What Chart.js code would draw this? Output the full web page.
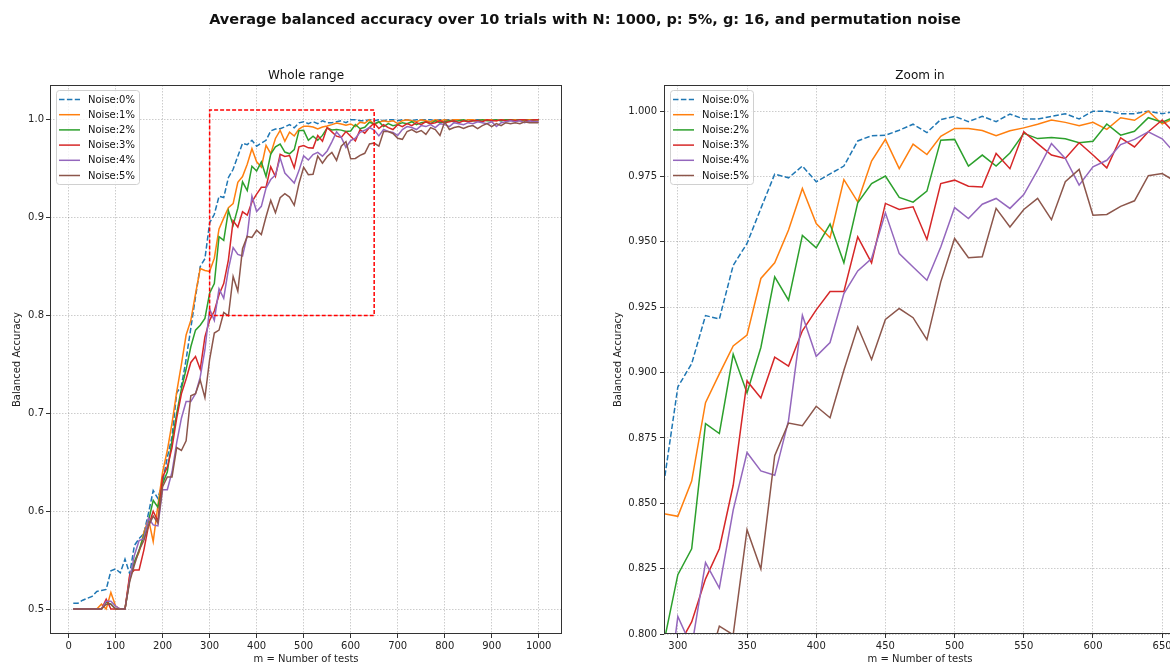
<!DOCTYPE html>
<html>
<head>
<meta charset="utf-8">
<script src="https://cdn.jsdelivr.net/npm/chart.js@4.4.1/dist/chart.umd.min.js"></script>
<style>
    body { margin: 0; background: #fff; }
    #fig { position: relative; width: 1170px; height: 666px; overflow: hidden; font-family: 'DejaVu Sans', sans-serif; color: #111; }
    #fig canvas { position: absolute; top: 0; }
    .suptitle { position: absolute; left: 0; top: 10px; width: 1170px; text-align: center; font-weight: bold; font-size: 14.5px; line-height: 18px; }
    .axtitle { position: absolute; top: 68px; width: 512px; text-align: center; font-size: 12px; line-height: 14px; }
</style>
</head>
<body>
<div id="fig">
    <canvas id="wholeChart" width="590" height="666" style="left:0"></canvas>
    <canvas id="zoomChart" width="600" height="666" style="left:590px"></canvas>
    <div class="suptitle">Average balanced accuracy over 10 trials with N: 1000, p: 5%, g: 16, and permutation noise</div>
    <div class="axtitle" style="left:50px">Whole range</div>
    <div class="axtitle" style="left:664px">Zoom in</div>
</div>
<script>
// m = number of tests
const numTests = [10, 20, 30, 40, 50, 60, 70, 80, 90, 100,
    110, 120, 130, 140, 150, 160, 170, 180, 190, 200,
    210, 220, 230, 240, 250, 260, 270, 280, 290, 300,
    310, 320, 330, 340, 350, 360, 370, 380, 390, 400,
    410, 420, 430, 440, 450, 460, 470, 480, 490, 500,
    510, 520, 530, 540, 550, 560, 570, 580, 590, 600,
    610, 620, 630, 640, 650, 660, 670, 680, 690, 700,
    710, 720, 730, 740, 750, 760, 770, 780, 790, 800,
    810, 820, 830, 840, 850, 860, 870, 880, 890, 900,
    910, 920, 930, 940, 950, 960, 970, 980, 990, 1000];

// balanced accuracy per noise level
const noise0 = [.506, .506, .509, .511, .513, .518, .519, .520, .539, .541,
    .537, .551, .536, .565, .572, .577, .598, .621, .613, .630,
    .655, .676, .721, .728, .755, .787, .819, .850, .858, .8945,
    .9034, .9218, .9205, .941, .9494, .9628, .9759, .9745, .979, .973,
    .976, .979, .9886, .9906, .9908, .9927, .995, .9918, .9968, .998,
    .996, .998, .996, .9989, .997, .997, .998, .999, .997, 1.0,
    1.0, .999, .999, 1.0, .999, 1.0, .999, 1.0, 1.0, .999,
    1.0, 1.0, .999, 1.0, 1.0, 1.0, 1.0, .999, 1.0, 1.0,
    1.0, 1.0, 1.0, .999, 1.0, 1.0, 1.0, 1.0, 1.0, 1.0,
    1.0, .999, 1.0, 1.0, 1.0, 1.0, 1.0, 1.0, 1.0, 1.0];
const noise1 = [.5, .5, .5, .5, .5, .5, .505, .5, .517, .503,
    .5, .5, .533, .548, .558, .578, .592, .569, .606, .640,
    .662, .690, .722, .750, .780, .795, .822, .848, .846, .845,
    .8585, .8885, .8995, .9102, .9143, .936, .942, .9545, .9704, .957,
    .9516, .9738, .9653, .9809, .9892, .978, .9874, .9834, .9904, .9934,
    .9934, .9926, .9906, .9925, .9936, .995, .9966, .9957, .9944, .9957,
    .993, .9975, .9965, 1.0, .9951, .9975, .999, .998, .999, .996,
    .999, 1.0, .999, .998, 1.0, .999, .998, 1.0, .999, 1.0,
    .999, 1.0, 1.0, .999, 1.0, 1.0, .999, 1.0, 1.0, 1.0,
    .999, 1.0, 1.0, 1.0, 1.0, .999, 1.0, 1.0, 1.0, 1.0];
const noise2 = [.5, .5, .5, .5, .5, .5, .5, .507, .505, .5,
    .5, .5, .53, .548, .56, .575, .59, .611, .604, .628,
    .640, .672, .70, .725, .745, .768, .785, .79, .797, .8227,
    .8326, .8805, .8767, .907, .8922, .9096, .9366, .9277, .9525, .9477,
    .9568, .942, .9649, .9723, .9752, .967, .9652, .9694, .9889, .9892,
    .979, .9832, .979, .984, .9915, .9895, .9899, .9894, .9879, .9885,
    .9951, .9908, .9923, .9975, .9958, .998, .993, .996, .994, .995,
    .997, .996, .998, .995, .997, .998, .996, .999, .997, .998,
    .999, .998, .999, 1.0, .998, .999, .999, 1.0, .999, .999,
    1.0, .999, 1.0, 1.0, .999, 1.0, 1.0, .999, 1.0, 1.0];
const noise3 = [.5, .5, .5, .5, .5, .5, .5, .51, .5, .5,
    .5, .5, .535, .54, .54, .56, .585, .60, .59, .635,
    .645, .665, .695, .72, .735, .752, .758, .745, .778, .795,
    .8046, .8211, .8326, .8569, .8968, .8903, .9059, .9025, .916, .924,
    .931, .931, .9519, .942, .9647, .9624, .9634, .9509, .9723, .9736,
    .9713, .971, .9838, .978, .9921, .9876, .9832, .9819, .9879, .9832,
    .9783, .9898, .9863, .9921, .9966, .991, .995, .992, .99, .995,
    .993, .996, .994, .997, .995, .998, .996, .997, .999, .997,
    .998, .999, .997, .999, .998, .999, .999, .998, 1.0, .999,
    .999, 1.0, .999, 1.0, .999, 1.0, 1.0, .999, 1.0, 1.0];
const noise4 = [.5, .5, .5, .5, .5, .5, .5, .508, .508, .503,
    .5, .5, .53, .555, .57, .572, .593, .586, .585, .622,
    .622, .64, .67, .695, .712, .712, .72, .737, .765, .8067,
    .795, .8273, .8176, .8474, .8694, .8624, .8607, .8817, .9219, .9062,
    .9115, .9302, .9389, .9436, .9611, .9455, .9404, .9353, .948, .9631,
    .9589, .9644, .9666, .9628, .9681, .9774, .9876, .9819, .9717, .9787,
    .9812, .9872, .9892, .9921, .9894, .9835, .99, .988, .987, .984,
    .99, .993, .992, .99, .994, .993, .995, .992, .996, .995,
    .993, .997, .996, .995, .997, .996, .998, .997, .996, .998,
    .993, .997, .998, .999, .998, .999, .997, .999, .998, .998];
const noise5 = [.5, .5, .5, .5, .5, .5, .5, .505, .505, .5,
    .5, .5, .528, .545, .56, .57, .585, .595, .588, .625,
    .635, .635, .665, .662, .672, .718, .72, .734, .716, .755,
    .782, .785, .803, .7997, .8399, .8249, .8682, .8807, .8797, .8871,
    .8827, .9009, .9175, .905, .9203, .9245, .921, .9126, .9347, .9513,
    .9439, .9443, .9628, .9557, .9624, .9666, .9585, .973, .9777, .9602,
    .9605, .9636, .9657, .9753, .9761, .973, .988, .988, .986, .981,
    .98, .988, .99, .987, .989, .985, .992, .99, .984, .998,
    .99, .992, .993, .991, .993, .994, .991, .994, .996, .993,
    .996, .994, .997, .996, .997, .996, .998, .997, .997, .997];

const noiseSeries = [noise0, noise1, noise2, noise3, noise4, noise5];
const noiseLabels = ['Noise:0%', 'Noise:1%', 'Noise:2%', 'Noise:3%', 'Noise:4%', 'Noise:5%'];
const noiseColors = ['#1f77b4', '#ff7f0e', '#2ca02c', '#d62728', '#9467bd', '#8c564b'];

// zoom window shown on the left plot
const zoomBoxX = [300, 300, 650, 650, 300];
const zoomBoxY = [0.8, 1.01, 1.01, 0.8, 0.8];

// tick labels
const wholeXTicks = [0, 100, 200, 300, 400, 500, 600, 700, 800, 900, 1000];
const wholeYTicks = [0.5, 0.6, 0.7, 0.8, 0.9, 1.0];
const zoomXTicks = [300, 350, 400, 450, 500, 550, 600, 650];
const zoomYTicks = [0.800, 0.825, 0.850, 0.875, 0.900, 0.925, 0.950, 0.975, 1.000];

const font = { family: 'DejaVu Sans', size: 10 };
const blueDash = [5.5, 2.4];

function buildDatasets(withZoomBox) {
    const sets = noiseSeries.map((vals, i) => ({
        label: noiseLabels[i],
        data: numTests.map((m, j) => ({ x: m, y: vals[j] })),
        borderColor: noiseColors[i],
        borderWidth: 1.5,
        borderDash: i === 0 ? blueDash : [],
        pointRadius: 0,
        tension: 0,
        fill: false,
        order: noiseSeries.length - i // later series drawn on top, like matplotlib
    }));
    if (withZoomBox) {
        sets.push({
            label: 'zoom',
            data: zoomBoxX.map((x, j) => ({ x: x, y: zoomBoxY[j] })),
            borderColor: '#ff0000',
            borderWidth: 1.5,
            borderDash: [4, 2],
            pointRadius: 0,
            fill: false,
            order: -1
        });
    }
    return sets;
}

// axes frame + matplotlib-like legend in upper left
const frameLegend = {
    id: 'frameLegend',
    afterDraw(chart) {
        const { ctx, chartArea: a } = chart;
        ctx.save();
        ctx.strokeStyle = '#333';
        ctx.lineWidth = 1;
        ctx.setLineDash([]);
        ctx.strokeRect(Math.round(a.left) + 0.5, Math.round(a.top) + 0.5,
            Math.round(a.right - a.left) - 1, Math.round(a.bottom - a.top) - 1);

        const bx = Math.round(a.left) + 6, by = Math.round(a.top) + 5;
        ctx.beginPath();
        ctx.roundRect(bx + 0.5, by + 0.5, 83, 94, 3);
        ctx.fillStyle = 'rgba(255,255,255,0.8)';
        ctx.fill();
        ctx.strokeStyle = '#d0d0d0';
        ctx.stroke();

        ctx.font = '10px "DejaVu Sans"';
        ctx.textBaseline = 'middle';
        ctx.textAlign = 'left';
        noiseLabels.forEach((label, i) => {
            const y = by + 9.5 + i * 15.2;
            ctx.beginPath();
            ctx.setLineDash(i === 0 ? blueDash : []);
            ctx.strokeStyle = noiseColors[i];
            ctx.lineWidth = 1.5;
            ctx.moveTo(bx + 3, y);
            ctx.lineTo(bx + 24, y);
            ctx.stroke();
            ctx.setLineDash([]);
            ctx.fillStyle = '#111';
            ctx.fillText(label, bx + 32, y + 0.5);
        });
        ctx.restore();
    }
};

function makeOptions(o) {
    const gridOpts = {
        color: 'rgba(0,0,0,0.25)',
        lineWidth: 0.8,
        drawTicks: true,
        tickLength: 4,
        tickColor: '#333',
        tickWidth: 1
    };
    return {
        responsive: false,
        animation: false,
        layout: { padding: { left: 0, top: 85, right: o.padRight, bottom: 0 } },
        plugins: { legend: { display: false }, tooltip: { enabled: false } },
        scales: {
            x: {
                type: 'linear',
                min: o.xMin,
                max: o.xMax,
                afterBuildTicks: s => { s.ticks = o.xTicks.map(v => ({ value: v })); },
                afterFit: s => { s.height = 32; },
                grid: gridOpts,
                border: { display: false, dash: [1.5, 1.5] },
                ticks: { font: font, color: '#222', padding: 2, maxRotation: 0, autoSkip: false, callback: v => String(v) },
                title: { display: true, text: 'm = Number of tests', font: font, color: '#222', padding: { top: 0, bottom: 1 } }
            },
            y: {
                type: 'linear',
                min: o.yMin,
                max: o.yMax,
                afterBuildTicks: s => { s.ticks = o.yTicks.map(v => ({ value: v })); },
                afterFit: s => { s.width = o.yWidth; },
                grid: gridOpts,
                border: { display: false, dash: [1.5, 1.5] },
                ticks: { font: font, color: '#222', padding: o.yTickPad, autoSkip: false, callback: v => v.toFixed(o.yDecimals) },
                title: { display: true, text: 'Balanced Accuracy', font: font, color: '#222', padding: { top: o.yTitlePad, bottom: 0 } }
            }
        }
    };
}

new Chart(document.getElementById('wholeChart'), {
    type: 'line',
    data: { datasets: buildDatasets(true) },
    options: makeOptions({
        xMin: -39.5, xMax: 1049.5, xTicks: wholeXTicks,
        yMin: 0.4745, yMax: 1.0355, yTicks: wholeYTicks, yDecimals: 1,
        yWidth: 50, yTickPad: 2, yTitlePad: 11, padRight: 28
    }),
    plugins: [frameLegend]
});

new Chart(document.getElementById('zoomChart'), {
    type: 'line',
    data: { datasets: buildDatasets(false) },
    options: makeOptions({
        xMin: 290, xMax: 660, xTicks: zoomXTicks,
        yMin: 0.8, yMax: 1.01, yTicks: zoomYTicks, yDecimals: 3,
        yWidth: 74, yTickPad: 3, yTitlePad: 22, padRight: 14
    }),
    plugins: [frameLegend]
});
</script>
</body>
</html>
